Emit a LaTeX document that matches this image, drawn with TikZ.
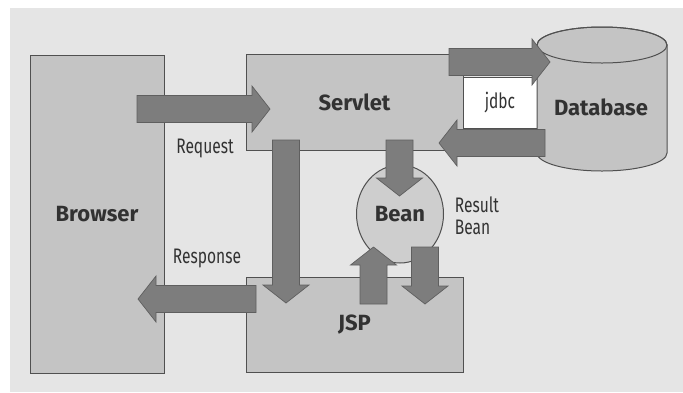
\documentclass[tikz,border=0pt]{standalone}
\usepackage{fontspec}
\setmainfont{Fira Sans}
\newfontfamily\narrowfont[FakeStretch=0.74]{Fira Sans}
\usepackage{tikz}
\usetikzlibrary{calc,shapes.geometric}
\definecolor{bggray}{RGB}{229,229,229}
\definecolor{boxgray}{RGB}{196,196,196}
\definecolor{beangray}{RGB}{206,206,206}
\definecolor{edgegray}{RGB}{80,80,80}
\definecolor{arrowgray}{RGB}{125,125,125}
\definecolor{arrowedge}{RGB}{95,95,95}
\definecolor{inkgray}{RGB}{50,50,50}

\begin{document}
\begin{tikzpicture}[x=1pt, y=-1pt,
    block/.style={draw=edgegray, fill=boxgray, line width=1pt, inner sep=0pt,
                  font=\bfseries\fontsize{22}{24}\selectfont, text=inkgray},
    tag/.style={font=\narrowfont\fontsize{21}{22}\selectfont, text=inkgray, align=left},
    fat/.style={draw=arrowedge, fill=arrowgray, line width=0.7pt, line join=miter,
      to path={
        ($(\tikztostart)!13.5pt!90:(\tikztotarget)$)
        -- ($($(\tikztotarget)!18pt!(\tikztostart)$)!13.5pt!-90:(\tikztostart)$)
        -- ($($(\tikztotarget)!18pt!(\tikztostart)$)!23pt!-90:(\tikztostart)$)
        -- (\tikztotarget)
        -- ($($(\tikztotarget)!18pt!(\tikztostart)$)!23pt!90:(\tikztostart)$)
        -- ($($(\tikztotarget)!18pt!(\tikztostart)$)!13.5pt!90:(\tikztostart)$)
        -- ($(\tikztostart)!13.5pt!-90:(\tikztotarget)$) -- cycle}}]
  % frame
  \fill[white] (0,0) rectangle (683,392);
  \fill[bggray] (10,8) rectangle (683,392);
  \useasboundingbox (0,0) rectangle (683,392);
  % boxes
  \node[block, minimum width=134pt, minimum height=318pt] (br) at (97,214) {Browser};
  \node[block, minimum width=217pt, minimum height=96pt] (sv) at (354.5,102) {Servlet};
  \node[block, minimum width=217pt, minimum height=95pt] (jsp) at (354.5,324.5) {JSP};
  \node[block, ellipse, fill=beangray, minimum width=87pt, minimum height=98pt]
       (bean) at (400,214) {Bean};
  \node[block, fill=white, minimum width=74pt, minimum height=51pt,
        font=\narrowfont\fontsize{21}{22}\selectfont] (jdbc) at (500,102.5) {jdbc};
  % database
  \filldraw[draw=edgegray, fill=boxgray, line width=1pt]
    (537,45) -- (537,153) arc[start angle=180, end angle=0, x radius=65, y radius=18]
    -- (667,45) arc[start angle=0, end angle=-180, x radius=65, y radius=18] -- cycle;
  \draw[edgegray, line width=1pt] (602,45) ellipse[x radius=65, y radius=18];
  \node[font=\bfseries\fontsize{22}{24}\selectfont, text=inkgray] (db) at (601,107) {Database};
  % labels
  \node[tag] (req) at (205,148) {Request};
  \node[tag] (resp) at (207,258) {Response};
  \node[tag, inner sep=0pt] (res) at (477,216) {Result\\Bean};
  % arrow ends
  \coordinate (reqA) at (137,109);   \coordinate (reqB) at (270,109);
  \coordinate (respA) at (256,299);  \coordinate (respB) at (138,299);
  \coordinate (dbA) at (449,62);     \coordinate (dbB) at (550,62);
  \coordinate (svA) at (545,143);    \coordinate (svB) at (439,143);
  \coordinate (jspA) at (286,140);   \coordinate (jspB) at (286,303);
  \coordinate (beanA) at (399.5,140); \coordinate (beanB) at (399.5,196);
  \coordinate (upA) at (373.5,304);  \coordinate (upB) at (373.5,247);
  \coordinate (dnA) at (425,247);    \coordinate (dnB) at (425,304);
  % arrows
  \path[fat] (reqA) to (reqB);
  \path[fat] (respA) to (respB);
  \path[fat] (dbA) to (dbB);
  \path[fat] (svA) to (svB);
  \path[fat] (jspA) to (jspB);
  \path[fat] (beanA) to (beanB);
  \path[fat] (upA) to (upB);
  \path[fat] (dnA) to (dnB);
\end{tikzpicture}
\end{document}
